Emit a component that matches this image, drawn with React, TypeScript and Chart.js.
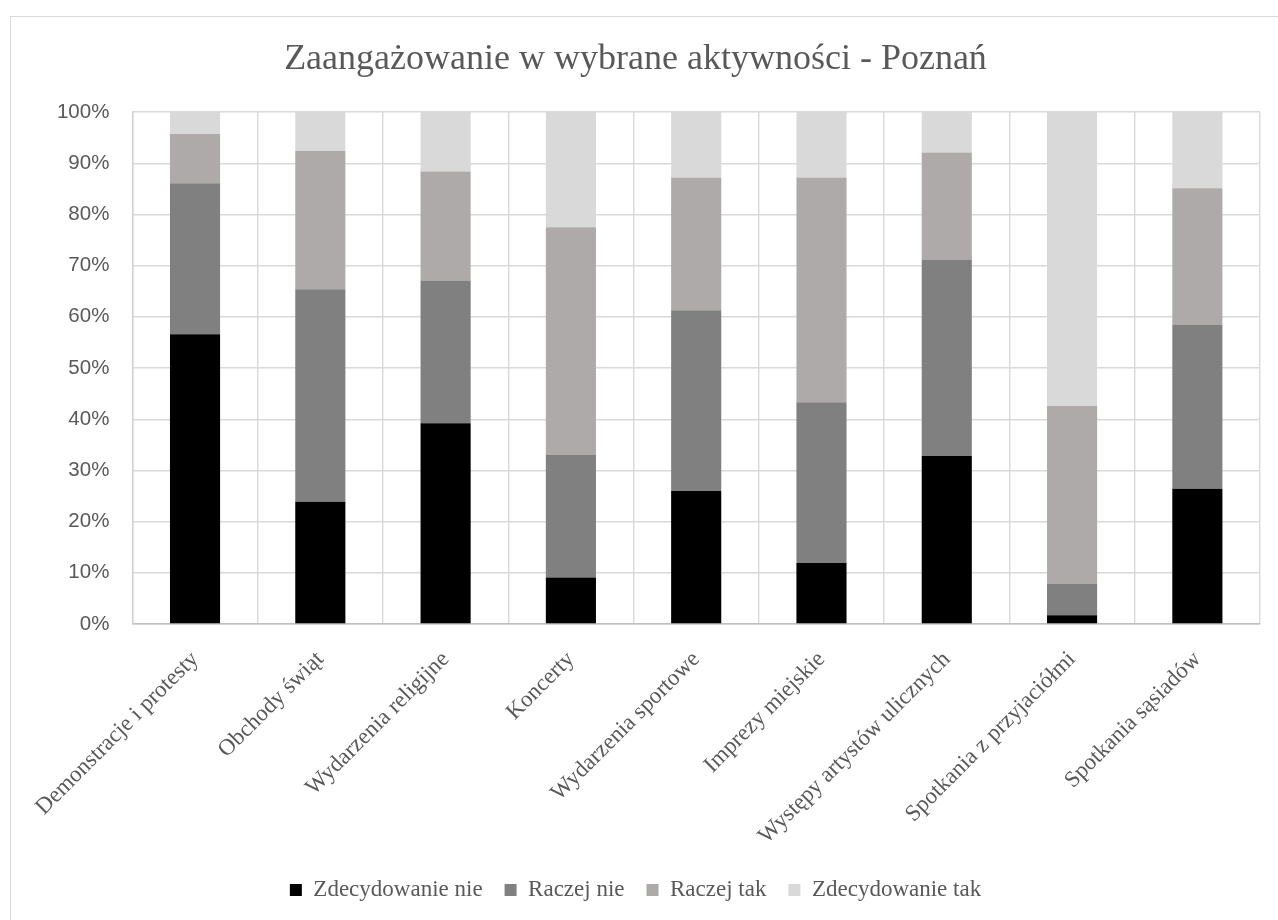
import React, { useEffect, useRef } from "react";
import { Chart, registerables } from "chart.js";

Chart.register(...registerables);

const chartTitle = "Zaangażowanie w wybrane aktywności - Poznań";
const categories = [
  "Demonstracje i protesty",
  "Obchody świąt",
  "Wydarzenia religijne",
  "Koncerty",
  "Wydarzenia sportowe",
  "Imprezy miejskie",
  "Występy artystów ulicznych",
  "Spotkania z przyjaciółmi",
  "Spotkania sąsiadów",
];
const seriesNames = ["Zdecydowanie nie", "Raczej nie", "Raczej tak", "Zdecydowanie tak"];
const zdecydowanieNie = [56.6, 23.9, 39.2, 9.1, 26.0, 11.9, 32.8, 1.7, 26.4];
const raczejNie = [29.5, 41.5, 27.9, 23.9, 35.3, 31.4, 38.4, 6.2, 32.1];
const raczejTak = [9.6, 27.0, 21.3, 44.5, 25.9, 43.9, 20.9, 34.7, 26.6];
const zdecydowanieTak = [4.3, 7.6, 11.6, 22.5, 12.8, 12.8, 7.9, 57.4, 14.9];
const seriesColors = ["#000000", "#808080", "#AEAAAA", "#D9D9D9"];
const yTickValues = [0, 10, 20, 30, 40, 50, 60, 70, 80, 90, 100];

const CANVAS_W = 1267;
const CANVAS_H = 903;

export default function App() {
  const canvasRef = useRef<HTMLCanvasElement | null>(null);

  useEffect(() => {
    document.body.style.margin = "0";
    document.body.style.overflow = "hidden";
    const canvas = canvasRef.current;
    if (!canvas) return;
    const seriesData = [zdecydowanieNie, raczejNie, raczejTak, zdecydowanieTak];
    const chart = new Chart(canvas, {
      type: "bar",
      data: {
        labels: categories,
        datasets: seriesNames.map((name, i) => ({
          label: name,
          data: seriesData[i],
          backgroundColor: seriesColors[i],
          borderWidth: 0,
          barPercentage: 0.4,
          categoryPercentage: 1,
        })),
      },
      options: {
        responsive: false,
        animation: false,
        devicePixelRatio: 1,
        layout: { padding: { top: 0, left: 0, right: 18, bottom: 8.5 } },
        plugins: {
          title: {
            display: true,
            text: chartTitle,
            color: "#595959",
            font: { family: "'Liberation Serif', 'Times New Roman', serif", size: 36, weight: "normal" },
            padding: { top: 21, bottom: 30.8 },
          },
          legend: {
            display: true,
            position: "bottom",
            labels: {
              color: "#595959",
              font: { family: "'Liberation Serif', 'Times New Roman', serif", size: 23 },
              boxWidth: 12,
              boxHeight: 12,
              padding: 22,
            },
          },
          tooltip: { enabled: false },
        },
        scales: {
          x: {
            stacked: true,
            offset: true,
            grid: { display: true, color: "#D9D9D9", lineWidth: 1.4, drawTicks: false, offset: true },
            border: { display: true, color: "#BFBFBF", width: 1.5 },
            ticks: {
              autoSkip: false,
              minRotation: 45,
              maxRotation: 45,
              padding: 22,
              color: "#595959",
              font: { family: "'Liberation Serif', 'Times New Roman', serif", size: 23 },
            },
            afterFit: (scale: any) => {
              scale.height = 232.5;
            },
          },
          y: {
            stacked: true,
            min: 0,
            max: 100,
            afterBuildTicks: (scale: any) => {
              scale.ticks = yTickValues.map((v) => ({ value: v }));
            },
            grid: { display: true, color: "#D9D9D9", lineWidth: 1.4, drawTicks: false },
            border: { display: true, color: "#D0D0D0", width: 1.4 },
            ticks: {
              padding: 23,
              color: "#595959",
              font: { family: "'Liberation Sans', Arial, sans-serif", size: 20.5 },
              callback: (v: any) => `${v}%`,
            },
            afterFit: (scale: any) => {
              scale.width = 120;
            },
          },
        },
      },
    });
    return () => chart.destroy();
  }, []);

  return (
    <div
      style={{
        position: "absolute",
        left: 10,
        top: 16,
        width: 1300,
        height: 960,
        border: "1px solid #D9D9D9",
        background: "#FFFFFF",
      }}
    >
      <canvas
        ref={canvasRef}
        width={CANVAS_W}
        height={CANVAS_H}
        style={{ display: "block", width: CANVAS_W, height: CANVAS_H }}
      />
    </div>
  );
}
